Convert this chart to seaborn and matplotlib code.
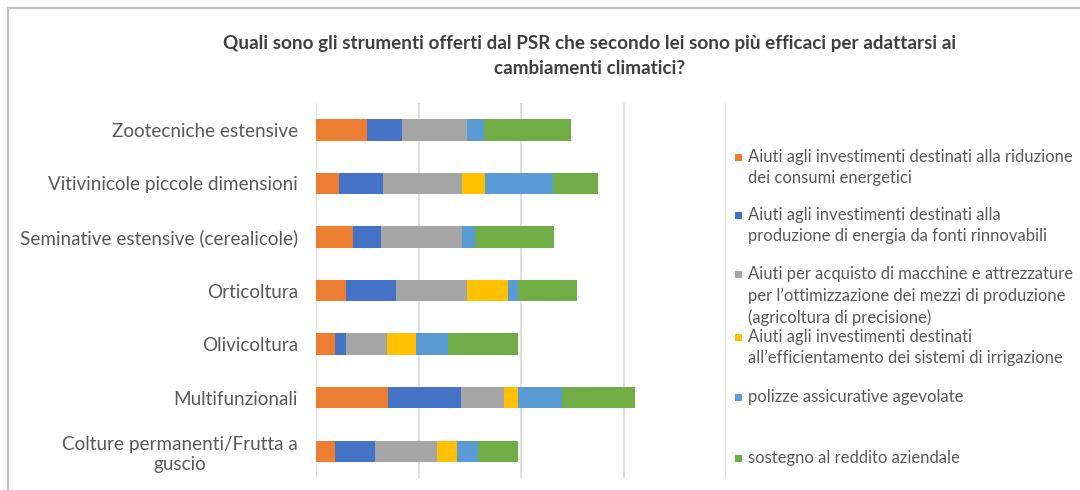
import matplotlib
matplotlib.use("Agg")
import matplotlib.pyplot as plt
import seaborn as sns
import numpy as np
from matplotlib.patches import Rectangle
from matplotlib.lines import Line2D

# ---------------- data ----------------
categories = [
    "Zootecniche estensive",
    "Vitivinicole piccole dimensioni",
    "Seminative estensive (cerealicole)",
    "Orticoltura",
    "Olivicoltura",
    "Multifunzionali",
    "Colture permanenti/Frutta a\nguscio",
]
riduzione_consumi = [5.0, 2.2, 3.6, 2.9, 1.9, 7.0, 1.9]
energia_rinnovabile = [3.4, 4.35, 2.7, 4.9, 1.0, 7.1, 3.9]
macchine_precisione = [6.3, 7.7, 7.9, 6.9, 4.0, 4.2, 6.0]
irrigazione = [0.0, 2.2, 0.0, 4.0, 2.9, 1.4, 2.0]
polizze = [1.7, 6.7, 1.3, 1.0, 3.1, 4.3, 2.0]
sostegno_reddito = [8.5, 4.35, 7.7, 5.8, 6.8, 7.1, 3.9]

series_labels = [
    ["Aiuti agli investimenti destinati alla riduzione", "dei consumi energetici"],
    ["Aiuti agli investimenti destinati alla", "produzione di energia da fonti rinnovabili"],
    ["Aiuti per acquisto di macchine e attrezzature",
     "per l\u2019ottimizzazione dei mezzi di produzione",
     "(agricoltura di precisione)"],
    ["Aiuti agli investimenti destinati", "all\u2019efficientamento dei sistemi di irrigazione"],
    ["polizze assicurative agevolate"],
    ["sostegno al reddito aziendale"],
]
title_lines = [
    "Quali sono gli strumenti offerti dal PSR che secondo lei sono più efficaci per adattarsi ai",
    "cambiamenti climatici?",
]

colors = ["#ED7D31", "#4472C4", "#A5A5A5", "#FFC000", "#5B9BD5", "#70AD47"]

# ---------------- figure ----------------
sns.set_theme(style="white")
plt.rcParams["font.family"] = ["Lato", "DejaVu Sans"]

W, H = 1080, 490
fig = plt.figure(figsize=(W / 100, H / 100), dpi=100)
ax = fig.add_axes([316 / W, 1 - 478 / H, (726 - 316) / W, (478 - 103) / H])

series = [riduzione_consumi, energia_rinnovabile, macchine_precisione,
          irrigazione, polizze, sostegno_reddito]
cum = np.cumsum(np.array(series), axis=0)

# stacked bars: draw cumulative totals from the outermost inward
for i in range(len(series) - 1, -1, -1):
    sns.barplot(x=cum[i], y=categories, orient="h", color=colors[i],
                saturation=1, width=0.4, edgecolor="none", linewidth=0, ax=ax)

ax.set_xlim(0, 40)
ax.set_xticks([0, 10, 20, 30, 40])
ax.tick_params(axis="x", length=0, labelbottom=False)
ax.tick_params(axis="y", length=0, pad=13, labelsize=13.6, labelcolor="#595959")
ax.set_xlabel("")
ax.set_ylabel("")
ax.xaxis.grid(True, color="#D9D9D9", linewidth=1.2)
ax.yaxis.grid(False)
ax.set_axisbelow(True)
for s in ax.spines.values():
    s.set_visible(False)
for lbl in ax.get_yticklabels():
    lbl.set_multialignment("center")
    lbl.set_linespacing(1.2)

# ---------------- title ----------------
fig.text(590 / W, 1 - 43 / H, title_lines[0], ha="center", va="center",
         fontsize=13.6, fontweight="bold", color="#404040")
fig.text(590 / W, 1 - 68 / H, title_lines[1], ha="center", va="center",
         fontsize=13.6, fontweight="bold", color="#404040")

# ---------------- legend ----------------
legend_line_y = [[157, 178], [215, 236], [274, 296, 318], [337, 358], [397], [458]]
for lines, ys, col in zip(series_labels, legend_line_y, colors):
    y0 = ys[0]
    fig.add_artist(Rectangle((735 / W, 1 - (y0 + 3.5) / H), 7 / W, 7 / H,
                             transform=fig.transFigure, facecolor=col,
                             edgecolor="none"))
    for txt, y in zip(lines, ys):
        fig.text(748 / W, 1 - y / H, txt, ha="left", va="center",
                 fontsize=12, color="#595959")

# ---------------- frame ----------------
fig.add_artist(Line2D([8 / W, 1], [1 - 8 / H, 1 - 8 / H], transform=fig.transFigure,
                      color="#BFBFBF", linewidth=1.5))
fig.add_artist(Line2D([8 / W, 8 / W], [0, 1 - 8 / H], transform=fig.transFigure,
                      color="#BFBFBF", linewidth=1.5))

fig.savefig("out.png", dpi=100)
